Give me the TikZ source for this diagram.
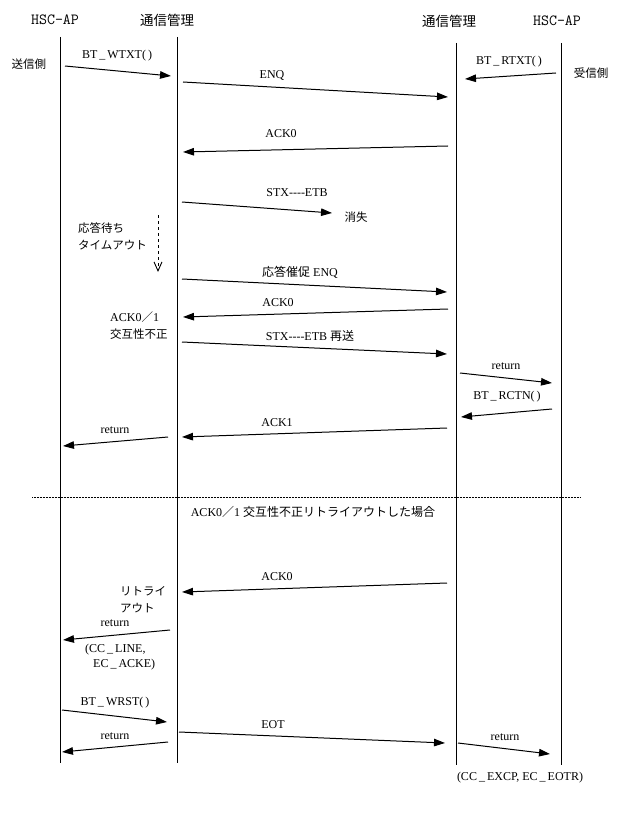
\documentclass[tikz,border=0pt]{standalone}
\usepackage{fontspec}
\setmainfont{Liberation Serif}
\newfontfamily\jpfont{Noto Sans CJK JP}
\usetikzlibrary{arrows.meta}

\newcommand\ja[1]{{\jpfont #1}}
\newcommand\us{\,\_\,}

\tikzset{
  lifeline/.style={line width=1pt},
  msg/.style={line width=1pt, -{Triangle[length=11pt,width=7.5pt]}},
  lbl/.style={inner sep=0pt, font=\fontsize{12}{12}\selectfont},
  jlbl/.style={inner sep=0pt, align=left, font=\fontsize{11.5}{17}\selectfont\jpfont},
  head/.style={inner sep=0pt, font=\fontsize{15.5}{16}\selectfont\ttfamily},
  jhead/.style={inner sep=0pt, font=\fontsize{13.5}{14}\selectfont\jpfont},
}

\begin{document}
\begin{tikzpicture}[x=1pt, y=-1pt]
  \useasboundingbox (0,0) rectangle (631,821);
  % Heads and life lines: AP, comm. manager, comm. manager, AP.
  \node[head]  (apL) at (55,20)  {HSC-AP};
  \node[jhead] (cmL) at (167,20) {通信管理};
  \node[jhead] (cmR) at (449,21) {通信管理};
  \node[head]  (apR) at (557,21) {HSC-AP};
  \coordinate (apL-top) at (60,37);  \coordinate (apL-bot) at (60,763);
  \coordinate (cmL-top) at (177,37); \coordinate (cmL-bot) at (177,763);
  \coordinate (cmR-top) at (456,43); \coordinate (cmR-bot) at (456,765);
  \coordinate (apR-top) at (561,43); \coordinate (apR-bot) at (561,765);
  \foreach \l in {apL,cmL,cmR,apR}
    \draw[lifeline] (\l-top) -- (\l-bot);
  \node[jlbl] (sender)   at (29,64)  {送信側};
  \node[jlbl] (receiver) at (591,73) {受信側};

  % Open and first block, lost on the way.
  \coordinate (wtxt-s) at (65,66);   \coordinate (wtxt-e) at (171,76);
  \coordinate (enq-s) at (183,82);   \coordinate (enq-e) at (448,97);
  \coordinate (rtxt-s) at (556,73);  \coordinate (rtxt-e) at (465,79);
  \coordinate (ack0a-s) at (448,146); \coordinate (ack0a-e) at (183,152);
  \coordinate (stx-s) at (182,202);  \coordinate (stx-e) at (332,213);
  \draw[msg] (wtxt-s) -- (wtxt-e);
  \draw[msg] (enq-s) -- (enq-e);
  \draw[msg] (rtxt-s) -- (rtxt-e);
  \draw[msg] (ack0a-s) -- (ack0a-e);
  \draw[msg] (stx-s) -- (stx-e);
  \node[lbl] (wtxt-l) at (117,56)  {BT\us WTXT(\,)};
  \node[lbl] (enq-l)  at (272,76)  {ENQ};
  \node[lbl] (rtxt-l) at (509,62)  {BT\us RTXT(\,)};
  \node[lbl] (ack0a-l) at (281,134) {ACK0};
  \node[lbl] (stx-l)  at (297,193) {STX{-}{-}{-}{-}ETB};
  \node[jlbl] (lost)  at (356,217) {消失};

  % Time-out, prompt and resend.
  \coordinate (wait-s) at (158,215); \coordinate (wait-e) at (158,272);
  \draw[line width=0.9pt, dashed, -{Straight Barb[length=9pt,width=8pt]}]
    (wait-s) -- (wait-e);
  \node[jlbl, anchor=west] (wait-l) at (78,236.5) {応答待ち\\タイムアウト};
  \coordinate (enq2-s) at (182,279);  \coordinate (enq2-e) at (447,292);
  \coordinate (ack0b-s) at (448,309); \coordinate (ack0b-e) at (183,317);
  \coordinate (stx2-s) at (182,342);  \coordinate (stx2-e) at (447,354);
  \draw[msg] (enq2-s) -- (enq2-e);
  \draw[msg] (ack0b-s) -- (ack0b-e);
  \draw[msg] (stx2-s) -- (stx2-e);
  \node[lbl] (enq2-l)  at (300,272) {\ja{応答催促} ENQ};
  \node[lbl] (ack0b-l) at (278,303) {ACK0};
  \node[lbl] (stx2-l)  at (310,336) {STX{-}{-}{-}{-}ETB \ja{再送}};
  \node[jlbl, anchor=west] (alt-l) at (110,325.5)
    {{\rmfamily\fontsize{12}{17}\selectfont ACK0}／{\rmfamily\fontsize{12}{17}\selectfont 1}\\交互性不正};

  % Receive side returns, ACK1 closes.
  \coordinate (ret1-s) at (460,373); \coordinate (ret1-e) at (552,383);
  \coordinate (rctn-s) at (552,409); \coordinate (rctn-e) at (461,417);
  \coordinate (ack1-s) at (447,428); \coordinate (ack1-e) at (182,437);
  \coordinate (ret2-s) at (168,437); \coordinate (ret2-e) at (63,446);
  \draw[msg] (ret1-s) -- (ret1-e);
  \draw[msg] (rctn-s) -- (rctn-e);
  \draw[msg] (ack1-s) -- (ack1-e);
  \draw[msg] (ret2-s) -- (ret2-e);
  \node[lbl] (ret1-l) at (506,366) {return};
  \node[lbl] (rctn-l) at (507,397) {BT\us RCTN(\,)};
  \node[lbl] (ack1-l) at (277,423) {ACK1};
  \node[lbl] (ret2-l) at (115,430) {return};

  % Separator: retry-out case.
  \coordinate (sep-l) at (32,497); \coordinate (sep-r) at (580,497);
  \draw[line width=0.7pt, dash pattern=on 0.8pt off 0.7pt] (sep-l) -- (sep-r);
  \node[lbl] (sep-t) at (313,512) {ACK0\ja{／}1 \ja{交互性不正リトライアウトした場合}};

  \coordinate (ack0c-s) at (447,583); \coordinate (ack0c-e) at (182,592);
  \coordinate (ret3-s) at (170,630);  \coordinate (ret3-e) at (63,640);
  \draw[msg] (ack0c-s) -- (ack0c-e);
  \draw[msg] (ret3-s) -- (ret3-e);
  \node[lbl] (ack0c-l) at (277,577) {ACK0};
  \node[jlbl, anchor=west] (retry-l) at (120,600) {リトライ\\アウト};
  \node[lbl] (ret3-l) at (115,623) {return};
  \node[lbl, anchor=north west, align=left, font=\fontsize{12}{15}\selectfont]
    (ret3-c) at (85,644) {(CC\us LINE,\\\hspace{8pt}EC\us ACKE)};

  % Close with EOT.
  \coordinate (wrst-s) at (62,710);  \coordinate (wrst-e) at (167,722);
  \coordinate (ret4-s) at (168,742); \coordinate (ret4-e) at (62,752);
  \coordinate (eot-s) at (179,732);  \coordinate (eot-e) at (445,743);
  \coordinate (ret5-s) at (458,743); \coordinate (ret5-e) at (550,754);
  \draw[msg] (wrst-s) -- (wrst-e);
  \draw[msg] (ret4-s) -- (ret4-e);
  \draw[msg] (eot-s) -- (eot-e);
  \draw[msg] (ret5-s) -- (ret5-e);
  \node[lbl] (wrst-l) at (115,703) {BT\us WRST(\,)};
  \node[lbl] (ret4-l) at (115,736) {return};
  \node[lbl] (eot-l)  at (273,725) {EOT};
  \node[lbl] (ret5-l) at (505,737) {return};
  \node[lbl] (ret5-c) at (520,778) {(CC\us EXCP, EC\us EOTR)};
\end{tikzpicture}
\end{document}
